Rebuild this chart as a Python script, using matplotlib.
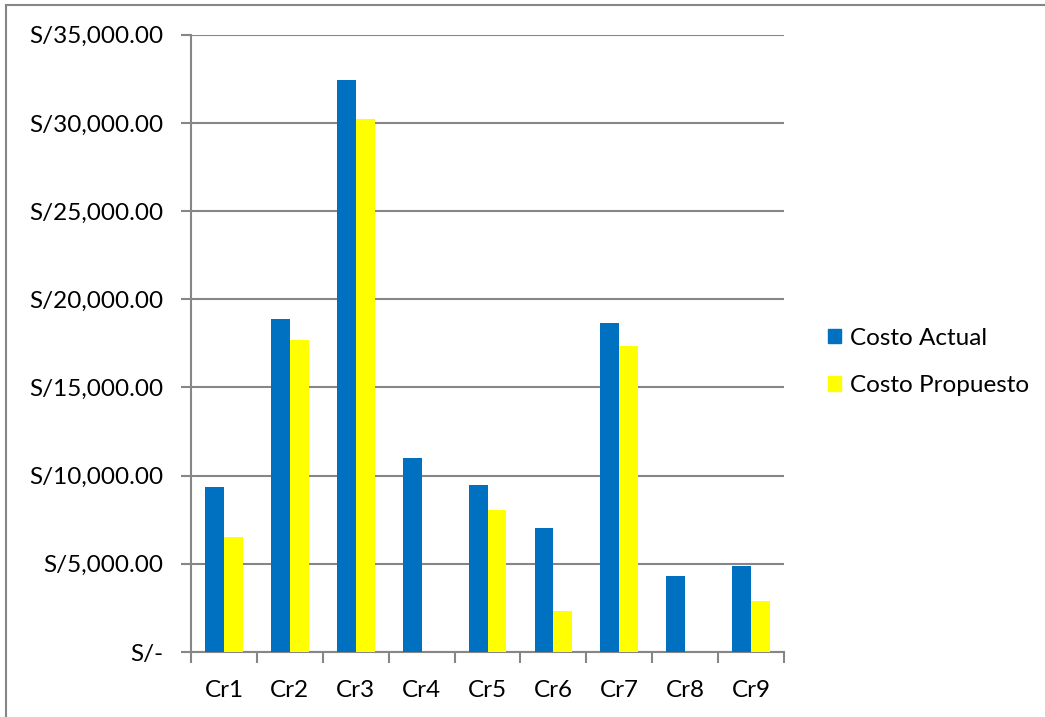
import matplotlib
matplotlib.use("Agg")
import matplotlib.pyplot as plt
import numpy as np
from matplotlib.lines import Line2D
from matplotlib.patches import Patch
from matplotlib.ticker import FuncFormatter, FixedLocator

categories = ["Cr1", "Cr2", "Cr3", "Cr4", "Cr5", "Cr6", "Cr7", "Cr8", "Cr9"]
costo_actual = [9360, 18890, 32430, 11025, 9455, 7035, 18630, 4295, 4880]
costo_propuesto = [6540, 17700, 30235, 0, 8040, 2310, 17340, 0, 2915]
series_names = ["Costo Actual", "Costo Propuesto"]

BLUE = "#0070C0"
YELLOW = "#FFFF00"
GREY = "#868686"

plt.rcParams['font.family'] = ['Lato', 'DejaVu Sans']

fig = plt.figure(figsize=(10.45, 7.17), dpi=100)
ax = fig.add_axes([191 / 1045, 65 / 717, 593 / 1045, 617.3 / 717])

x = np.arange(len(categories))
w = 0.285
ax.bar(x - w / 2, costo_actual, w, color=BLUE, label=series_names[0], zorder=3)
ax.bar(x + w / 2, costo_propuesto, w, color=YELLOW, label=series_names[1], zorder=3)

ax.set_xlim(-0.5, len(categories) - 0.5)
ax.set_ylim(0, 35000)

def money(v, pos):
    if v == 0:
        return "S/-"
    return "S/{:,.2f}".format(v)

ax.yaxis.set_major_locator(FixedLocator(np.arange(0, 35001, 5000)))
ax.yaxis.set_major_formatter(FuncFormatter(money))
ax.grid(axis="y", color=GREY, linewidth=1.5, zorder=0)

ax.set_xticks(x)
ax.set_xticklabels(categories)
ax.set_xticks(np.arange(-0.5, len(categories)), minor=True)
ax.tick_params(axis="x", which="major", length=0, pad=20, labelsize=17.5)
ax.tick_params(axis="x", which="minor", length=8, width=1.5, color=GREY)
ax.tick_params(axis="y", length=7, width=1.5, color=GREY, pad=13, labelsize=17.5)

for s in ["top", "right"]:
    ax.spines[s].set_visible(False)
for s in ["left", "bottom"]:
    ax.spines[s].set_color(GREY)
    ax.spines[s].set_linewidth(1.5)

handles = [Patch(color=BLUE), Patch(color=YELLOW)]
fig.legend(handles, series_names, loc="center left", bbox_to_anchor=(806 / 1045, 1 - 362 / 717),
           frameon=False, fontsize=17.5, handlelength=0.55, handleheight=0.55,
           handletextpad=0.35, labelspacing=1.1)

# chart area border: only top and left edges show in the crop
fig.add_artist(Line2D([6 / 1045, 1], [1 - 5 / 717, 1 - 5 / 717], transform=fig.transFigure,
                      color=GREY, linewidth=1.5))
fig.add_artist(Line2D([6 / 1045, 6 / 1045], [0, 1 - 5 / 717], transform=fig.transFigure,
                      color=GREY, linewidth=1.5))

fig.savefig("out.png", dpi=100)
